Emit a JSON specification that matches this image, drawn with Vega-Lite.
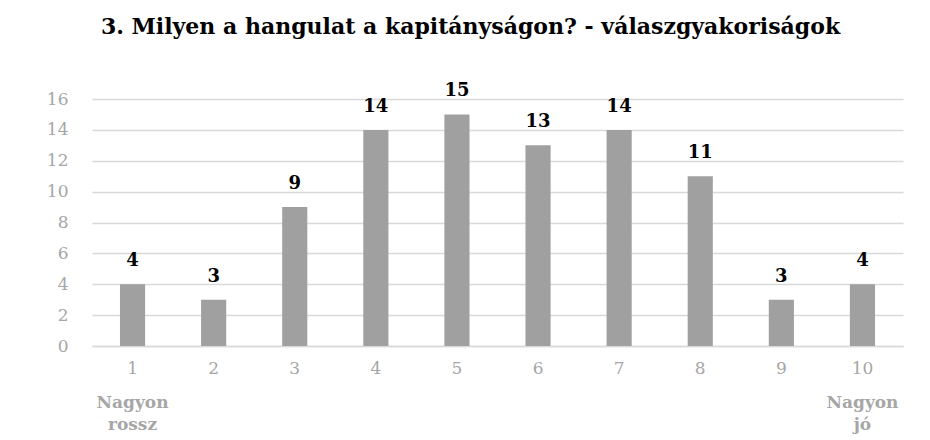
{
  "$schema": "https://vega.github.io/schema/vega-lite/v6.json",
  "width": 811,
  "height": 247,
  "autosize": {"type": "none"},
  "padding": {"left": 92, "top": 99, "right": 27, "bottom": 94},
  "background": "white",
  "title": {
    "text": "3. Milyen a hangulat a kapitányságon? - válaszgyakoriságok",
    "font": "DejaVu Serif",
    "fontSize": 22,
    "fontWeight": "bold",
    "color": "black",
    "anchor": "middle",
    "dx": -27,
    "offset": 43
  },
  "config": {
    "view": {"stroke": null},
    "font": "DejaVu Serif",
    "axisY": {"tickCount": 9}
  },
  "data": {"values": [
    {"k": 1, "n": 4, "note": "Nagyon\nrossz"}, {"k": 2, "n": 3, "note": ""}, {"k": 3, "n": 9, "note": ""},
    {"k": 4, "n": 14, "note": ""}, {"k": 5, "n": 15, "note": ""}, {"k": 6, "n": 13, "note": ""},
    {"k": 7, "n": 14, "note": ""}, {"k": 8, "n": 11, "note": ""}, {"k": 9, "n": 3, "note": ""},
    {"k": 10, "n": 4, "note": "Nagyon\njó"}
  ]},
  "encoding": {
    "x": {"field": "k", "type": "ordinal", "scale": {"paddingInner": 0.69, "paddingOuter": 0.345},
      "axis": {"title": null, "labelAngle": 0, "ticks": false, "labelPadding": 14, "labelFont": "DejaVu Serif", "labelFontSize": 17, "labelColor": "#a6a6a6", "domainColor": "#d9d9d9", "domainWidth": 1.5}}
  },
  "layer": [
    {
      "mark": {"type": "bar", "color": "#a0a0a0"},
      "encoding": {
        "y": {"field": "n", "type": "quantitative", "scale": {"domain": [0, 16], "nice": false},
          "axis": {"title": null, "tickCount": 9, "labelOverlap": false, "ticks": false, "domain": false, "labelPadding": 24, "labelFont": "DejaVu Serif", "labelFontSize": 17, "labelColor": "#a6a6a6", "gridColor": "#d9d9d9", "gridWidth": 1.5}}
      }
    },
    {
      "mark": {"type": "text", "font": "DejaVu Serif", "fontSize": 18, "fontWeight": "bold", "color": "black", "baseline": "bottom", "dy": -14},
      "encoding": {
        "y": {"field": "n", "type": "quantitative"},
        "text": {"field": "n"}
      }
    },
    {
      "mark": {"type": "text", "font": "DejaVu Serif", "fontSize": 17, "fontWeight": "bold", "color": "#a6a6a6", "baseline": "top", "lineBreak": "\n", "lineHeight": 22, "dy": 49},
      "encoding": {
        "y": {"datum": 0, "type": "quantitative"},
        "text": {"field": "note"}
      }
    }
  ]
}
